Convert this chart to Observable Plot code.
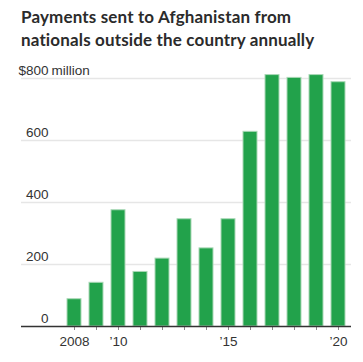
<!DOCTYPE html>
<html>
<head>
<meta charset="utf-8">
<script src="https://cdn.jsdelivr.net/npm/d3@7"></script>
<script src="https://cdn.jsdelivr.net/npm/@observablehq/plot@0.6"></script>
<style>
  html, body { margin: 0; padding: 0; background: #fff; }
  #wrap { width: 363px; height: 362px; position: relative; overflow: hidden; }
  #title { position: absolute; left: 21px; top: 5px; font-family: Lato, sans-serif; font-weight: 700; font-size: 17px; line-height: 23px; color: #2b2b2b; letter-spacing: 0.15px; }
  #chart { position: absolute; left: 0; top: 52px; }
</style>
</head>
<body>
<div id="wrap">
  <div id="title">Payments sent to Afghanistan from<br>nationals outside the country annually</div>
  <div id="chart"></div>
</div>
<script>
const years = [2008, 2009, 2010, 2011, 2012, 2013, 2014, 2015, 2016, 2017, 2018, 2019, 2020];
const payments = [88, 141, 375, 176, 219, 346, 252, 346, 628, 811, 802, 811, 788];
const yTicks = [0, 200, 400, 600, 800];
const yTickLabels = ["0", "200", "400", "600", "$800"];
const xTickLabels = {2008: "2008", 2010: "\u201910", 2015: "\u201915", 2020: "\u201920"};
const unitLabel = "million";

const data = years.map((y, i) => ({year: y, value: payments[i]}));
const font = "'Liberation Sans Narrow', 'Arial Narrow', sans-serif";

const plot = Plot.plot({
  width: 363,
  height: 310,
  marginTop: 26,
  marginBottom: 36,
  marginLeft: 59,
  marginRight: 10,
  style: {fontFamily: font, fontSize: "13.5px", color: "#333", background: "transparent"},
  x: {type: "band", domain: years, padding: 0.35, axis: null},
  y: {domain: [0, 800], axis: null},
  marks: [
    Plot.ruleY(yTicks.filter(d => d > 0), {stroke: "#e6e6e6", strokeWidth: 1.5, insetLeft: -38, insetRight: 2}),
    Plot.barY(data, {x: "year", y: "value", fill: "#22a24b", stroke: "#a9d8b6", strokeWidth: 1}),
    Plot.axisX({ticks: years, tickSize: 4, tickPadding: 6, stroke: "#888", tickFormat: d => xTickLabels[d] || "", fontSize: "13.5px", fill: "#333", label: null}),
    Plot.ruleY([0], {stroke: "#333", strokeWidth: 1.5, insetLeft: -38, insetRight: 2}),
    Plot.text(yTicks, {y: d => d, text: (d, i) => yTickLabels[i], frameAnchor: "left", dx: -11, dy: -4, textAnchor: "end", lineAnchor: "bottom", fill: "#333", fontSize: 13.5}),
    Plot.text([800], {y: d => d, text: () => unitLabel, frameAnchor: "left", dx: -8, dy: -4, textAnchor: "start", lineAnchor: "bottom", fill: "#333", fontSize: 13.5})
  ]
});
document.getElementById("chart").appendChild(plot);
</script>
</body>
</html>
